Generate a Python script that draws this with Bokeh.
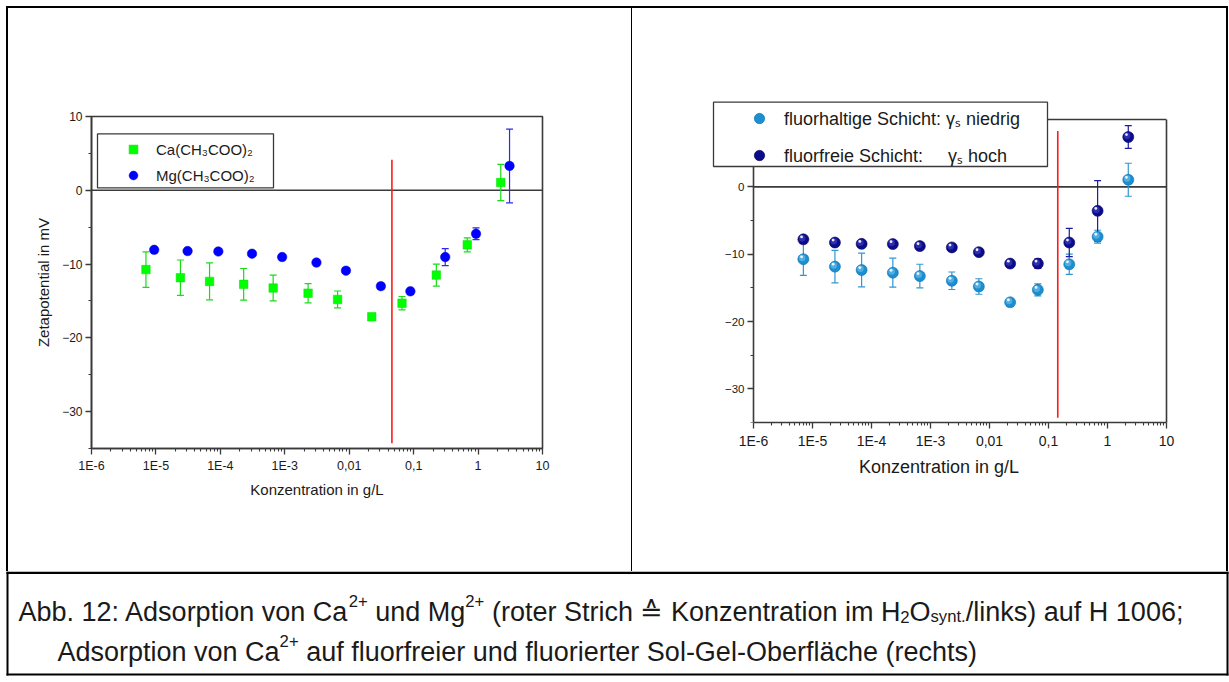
from bokeh.plotting import figure
from bokeh.models import (ColumnDataSource, Whisker, TeeHead, Span, Legend, LegendItem,
                          FixedTicker, Range1d, Spacer, BoxAnnotation, LinearAxis, LogAxis, Styles)
from bokeh.layouts import column, row
from bokeh.embed import file_html
from bokeh.resources import INLINE
from bokeh.core.properties import value

FONT = "Liberation Sans"
AXIS_COL = "#3a3a3a"
TEXT_COL = "#1a1a1a"

# ---------------- data ----------------
# concentration series (g/L)
conc_ca = [7.0e-6, 2.4e-5, 6.8e-5, 2.3e-4, 6.6e-4, 2.3e-3, 6.6e-3, 0.0224, 0.066, 0.225, 0.68, 2.25]
conc_mg = [9.4e-6, 3.1e-5, 9.3e-5, 3.1e-4, 9.1e-4, 3.1e-3, 8.9e-3, 0.031, 0.089, 0.309, 0.93, 3.08]

# zeta potential (mV) and standard deviation, Ca(CH3COO)2 on H 1006
zeta_ca = [-10.75, -11.85, -12.35, -12.75, -13.25, -13.95, -14.8, -17.15, -15.3, -11.5, -7.4, 1.05]
err_ca = [2.4, 2.4, 2.5, 2.15, 1.75, 1.3, 1.15, 0.3, 0.9, 1.5, 0.95, 2.45]

# Mg(CH3COO)2 on H 1006
zeta_mg = [-8.07, -8.24, -8.3, -8.6, -9.05, -9.8, -10.9, -13.0, -13.7, -9.05, -5.9, 3.3]
err_mg = [0.3, 0.3, 0.3, 0.3, 0.3, 0.3, 0.3, 0.4, 0.4, 1.15, 0.8, 5.0]

# Ca adsorption on sol-gel layers
conc_sg = conc_ca
zeta_fluor = zeta_ca          # fluorinated layer (low surface energy)
err_fluor = err_ca
zeta_free = [-7.8, -8.27, -8.47, -8.5, -8.8, -9.0, -9.7, -11.4, -11.4, -8.27, -3.57, 7.4]   # fluorine-free layer
err_free = [0.3, 0.3, 0.3, 0.3, 0.3, 0.3, 0.3, 0.3, 0.7, 2.1, 4.5, 1.7]

# concentration in synthetic water (red marker line): x position, y extent
red_left_x = 0.046
red_left_y = [4.15, -34.3]
red_right_x = 0.1436
red_right_y = [8.3, -34.3]

x_ticks = [1e-6, 1e-5, 1e-4, 1e-3, 1e-2, 1e-1, 1.0, 10.0]
x_tick_labels = ["1E-6", "1E-5", "1E-4", "1E-3", "0,01", "0,1", "1", "10"]
y_ticks = [-30, -20, -10, 0, 10]
y_minor = [-35, -25, -15, -5, 5]
x_lim = (1e-6, 10.0)
y_lim = (-35.0, 10.0)

# ---------------- page geometry (pixels) ----------------
PANEL_TOP, PANEL_H = 8, 563
BORDER_T, BORDER_B = 85, 115
# left panel figure spans x 8..631, frame = axis box
L_X0, L_W = 8, 623
L_LEFT, L_RIGHT, L_TOP, L_BOTTOM = 91, 542, 116, 448
# right panel figure spans x 632..1226; frame reaches a little past the axes
R_X0, R_W = 632, 594
R_FRAME_LEFT, R_AXIS_LEFT, R_RIGHT = 711, 753, 1166
R_FRAME_TOP, R_AXIS_TOP, R_BOTTOM = 99, 119, 422

# ---------------- helpers ----------------
ARIAL = {" ": 278, ".": 278, ":": 278, ";": 278, "(": 333, ")": 333, "/": 278, "-": 333,
         "+": 584, ",": 278, "\u00e4": 556, "\u2259": 838}
ARIAL.update({c: w for c, w in zip("ABCDEFGHIJKLMNOPQRSTUVWXYZ",
             [667, 667, 722, 722, 667, 611, 778, 722, 278, 500, 667, 556, 833, 722, 778, 667,
              778, 722, 667, 611, 722, 667, 944, 667, 667, 611])})
ARIAL.update({c: w for c, w in zip("abcdefghijklmnopqrstuvwxyz",
             [556, 556, 500, 556, 556, 278, 556, 556, 222, 222, 500, 222, 833, 556, 556, 556,
              556, 333, 500, 278, 556, 500, 722, 500, 500, 500])})
ARIAL.update({d: 556 for d in "0123456789"})


def text_width(s, size):
    return sum(ARIAL.get(ch, 556) for ch in s) * size / 1000.0


def style_axes(p, xtick_size, ytick_size, title_size):
    for ax in (p.xaxis[0], p.yaxis[0]):
        ax.axis_line_color = AXIS_COL
        ax.axis_line_width = 1.6
        ax.major_tick_line_color = AXIS_COL
        ax.major_tick_line_width = 1.3
        ax.minor_tick_line_color = AXIS_COL
        ax.minor_tick_line_width = 1.1
        ax.major_tick_in = 0
        ax.major_tick_out = 6
        ax.minor_tick_in = 0
        ax.minor_tick_out = 3
        ax.major_label_text_font = FONT
        ax.major_label_text_color = TEXT_COL
        ax.axis_label_text_font = FONT
        ax.axis_label_text_font_style = "normal"
        ax.axis_label_text_color = TEXT_COL
        ax.axis_label_text_font_size = title_size
    p.xaxis[0].major_label_text_font_size = xtick_size
    p.yaxis[0].major_label_text_font_size = ytick_size
    p.xaxis[0].major_label_standoff = 4
    p.yaxis[0].major_label_standoff = 3
    p.xaxis[0].ticker = FixedTicker(ticks=x_ticks,
                                    minor_ticks=[d * k for d in x_ticks[:-1] for k in range(2, 10)])
    p.xaxis[0].major_label_overrides = dict(zip(x_ticks, x_tick_labels))
    p.yaxis[0].ticker = FixedTicker(ticks=y_ticks, minor_ticks=y_minor)
    p.grid.visible = False


def bare_axis(cls, **kw):
    return cls(ticker=FixedTicker(ticks=[], minor_ticks=[]), major_label_text_font_size="0px",
               major_tick_line_color=None, minor_tick_line_color=None,
               axis_line_color=AXIS_COL, axis_line_width=1.6, **kw)


def error_bars(p, xs, ys, errs, color, cap=7):
    src = ColumnDataSource(dict(x=xs, upper=[y + e for y, e in zip(ys, errs)],
                                lower=[y - e for y, e in zip(ys, errs)]))
    w = Whisker(source=src, base="x", upper="upper", lower="lower", dimension="height",
                line_color=color, line_width=1.2,
                upper_head=TeeHead(size=cap, line_color=color, line_width=1.2),
                lower_head=TeeHead(size=cap, line_color=color, line_width=1.2))
    p.add_layout(w)


def red_line(p, rx, ry):
    p.segment(x0=[rx], y0=[ry[0]], x1=[rx], y1=[ry[1]], line_color="#ff1a1a", line_width=1.6)


def gap(w, h):
    return Spacer(width=w, height=h)


def rule(w, h, color="black"):
    return Spacer(width=w, height=h, styles=Styles(background_color=color))


def legend_box(p, x_of, y_of, px_left, px_right, py_top, py_bottom):
    p.add_layout(BoxAnnotation(left=x_of(px_left), right=x_of(px_right),
                               top=y_of(py_top), bottom=y_of(py_bottom),
                               fill_color="white", fill_alpha=1.0, line_color=AXIS_COL,
                               line_width=1.3, line_alpha=1.0, level="annotation"))


# ---------------- left panel: Ca / Mg acetate on H 1006 ----------------
L_DEC = (L_RIGHT - L_LEFT) / 7.0
L_UNIT = (L_BOTTOM - L_TOP) / 45.0
left = figure(width=L_W, height=BORDER_T + (L_BOTTOM - L_TOP) + BORDER_B, x_axis_type="log",
              x_range=Range1d(*x_lim), y_range=Range1d(*y_lim),
              toolbar_location=None, output_backend="svg",
              min_border_left=L_LEFT - L_X0, min_border_right=L_X0 + L_W - L_RIGHT,
              min_border_top=BORDER_T, min_border_bottom=BORDER_B,
              background_fill_color="white", border_fill_color="white")
style_axes(left, "12.5px", "12px", "15px")
left.outline_line_color = AXIS_COL
left.outline_line_width = 1.6
left.xaxis[0].axis_label = "Konzentration in g/L"
left.yaxis[0].axis_label = "Zetapotential in mV"
left.xaxis[0].axis_label_standoff = 5
left.yaxis[0].axis_label_standoff = 7

left.add_layout(Span(location=0, dimension="width", line_color=AXIS_COL,
                     line_width=1.6, level="underlay"))
red_line(left, red_left_x, red_left_y)
error_bars(left, conc_ca, zeta_ca, err_ca, "#18dc18")
error_bars(left, conc_mg, zeta_mg, err_mg, "#2a2af0")
r_ca = left.scatter(conc_ca, zeta_ca, marker="square", size=8.5,
                    fill_color="#00ff00", line_color="#00e000", line_width=0.5)
r_mg = left.scatter(conc_mg, zeta_mg, marker="circle", size=9.5,
                    fill_color="#0000ff", line_color="#0000e0", line_width=0.5)


def lx(px):
    return 10 ** (-6 + (px - L_LEFT) / L_DEC)


def ly(py):
    return y_lim[1] - (py - L_TOP) / L_UNIT


legend_box(left, lx, ly, 97, 273, 133.3, 187.3)
left.add_layout(Legend(items=[LegendItem(label="Ca(CH\u2083COO)\u2082", renderers=[r_ca]),
                              LegendItem(label="Mg(CH\u2083COO)\u2082", renderers=[r_mg])],
                       location=(19, 262), margin=0, padding=2, spacing=4,
                       glyph_width=46, glyph_height=22, label_height=22, label_width=20,
                       label_standoff=0, label_text_font=FONT, label_text_font_size="15px",
                       label_text_color=TEXT_COL, label_text_baseline="middle",
                       border_line_color=None, background_fill_alpha=0.0))

# ---------------- right panel: Ca on sol-gel layers ----------------
R_DEC = (R_RIGHT - R_AXIS_LEFT) / 7.0
R_UNIT = (R_BOTTOM - R_AXIS_TOP) / 45.0
r_x_start = 10 ** (-6 - (R_AXIS_LEFT - R_FRAME_LEFT) / R_DEC)
r_y_end = y_lim[1] + (R_AXIS_TOP - R_FRAME_TOP) / R_UNIT
right = figure(width=R_W, height=BORDER_T + (R_BOTTOM - R_FRAME_TOP) + BORDER_B, x_axis_type="log",
               x_range=Range1d(r_x_start, x_lim[1]), y_range=Range1d(y_lim[0], r_y_end),
               toolbar_location=None, output_backend="svg",
               min_border_left=R_FRAME_LEFT - R_X0, min_border_right=R_X0 + R_W - R_RIGHT,
               min_border_top=BORDER_T, min_border_bottom=BORDER_B,
               background_fill_color="white", border_fill_color="white")
style_axes(right, "14px", "11.5px", "18px")
right.outline_line_color = None
right.xaxis[0].axis_label = "Konzentration in g/L"
right.xaxis[0].axis_label_standoff = 5
right.xaxis[0].bounds = x_lim
right.yaxis[0].fixed_location = x_lim[0]
right.yaxis[0].bounds = y_lim
# top and right edges of the axis box
right.add_layout(bare_axis(LogAxis, fixed_location=y_lim[1], bounds=x_lim), "above")
right.add_layout(bare_axis(LinearAxis, bounds=y_lim), "right")

right.segment(x0=[x_lim[0]], y0=[0], x1=[x_lim[1]], y1=[0], line_color=AXIS_COL,
              line_width=1.6, level="underlay")
red_line(right, red_right_x, red_right_y)
error_bars(right, conc_sg, zeta_fluor, err_fluor, "#2f97d2")
error_bars(right, conc_sg, zeta_free, err_free, "#1c1ca0")


def sphere(p, xs, ys, base, edge, glow):
    r = p.scatter(xs, ys, marker="circle", size=11, fill_color=base,
                  line_color=edge, line_width=0.6)
    gx = [x * 10 ** (-1.2 / R_DEC) for x in xs]
    gy = [y + 1.2 / R_UNIT for y in ys]
    p.scatter(gx, gy, marker="circle", size=6.5, fill_color=glow, fill_alpha=0.55, line_color=None)
    hx = [x * 10 ** (-1.8 / R_DEC) for x in xs]
    hy = [y + 2.4 / R_UNIT for y in ys]
    p.scatter(hx, hy, marker="circle", size=2.8, fill_color="white", fill_alpha=0.9, line_color=None)
    return r


r_fluor = sphere(right, conc_sg, zeta_fluor, "#1b8fd2", "#0f6ea8", "#7cc8f0")
r_free = sphere(right, conc_sg, zeta_free, "#0b0b8c", "#04045a", "#4a4ad0")


def rx(px):
    return 10 ** (-6 + (px - R_AXIS_LEFT) / R_DEC)


def ry(py):
    return y_lim[1] - (py - R_AXIS_TOP) / R_UNIT


nb = "\u00a0"
legend_box(right, rx, ry, 713, 1047, 101.7, 166)
right.add_layout(Legend(items=[LegendItem(label="fluorhaltige Schicht: \u03b3\u209b niedrig", renderers=[r_fluor]),
                               LegendItem(label="fluorfreie Schicht:" + nb * 5 + "\u03b3\u209b hoch", renderers=[r_free])],
                        location=(23, 254), margin=0, padding=1, spacing=11,
                        glyph_width=50, glyph_height=26, label_height=26, label_width=20,
                        label_standoff=0, label_text_font=FONT, label_text_font_size="18px",
                        label_text_color=TEXT_COL, label_text_baseline="middle",
                        border_line_color=None, background_fill_alpha=0.0))

# ---------------- caption ----------------
cap = figure(width=1229, height=111, title=None, x_range=Range1d(0, 1229), y_range=Range1d(111, 0),
             toolbar_location=None, output_backend="svg", min_border=0,
             x_axis_location=None, y_axis_location=None, outline_line_color=None,
             background_fill_color="white", border_fill_color="white")
cap.grid.visible = False

# frame around the caption cell
cap.quad(left=[6, 6, 1226, 6], right=[1228, 8, 1228, 1228], top=[0, 0, 0, 102],
         bottom=[2.6, 104, 104, 104], fill_color="black", line_color=None)

CAP_SIZE = 27


def piece_style(kind, size):
    if kind == "sup":
        return size * 0.62, -size * 0.38
    if kind == "sub":
        return size * 0.62, size * 0.2
    return size, 0.0


def rich_line(p, x0, y0, segments, size):
    x = x0
    for txt, kind in segments:
        fs, dy = piece_style(kind, size)
        core = txt.strip(" ")
        lead = len(txt) - len(txt.lstrip(" "))
        p.text(x=[x + text_width(" " * lead, fs)], y=[y0 + dy], text=[core], text_font=value(FONT),
               text_font_size=f"{fs:.1f}px", text_baseline="alphabetic",
               text_align="left", text_color=TEXT_COL)
        x += text_width(txt, fs)


rich_line(cap, 18, 40, [("Abb. 12: Adsorption von Ca", "n"), ("2+", "sup"), (" und Mg", "n"),
                        ("2+", "sup"), (" (roter Strich \u2259 Konzentration im H", "n"),
                        ("2", "sub"), ("O", "n"), ("synt.", "sub"),
                        ("/links) auf H 1006;", "n")], CAP_SIZE)
rich_line(cap, 57, 80, [("Adsorption von Ca", "n"), ("2+", "sup"),
                        (" auf fluorfreier und fluorierter Sol-Gel-Oberfl\u00e4che (rechts)", "n")],
          CAP_SIZE)

# ---------------- page layout ----------------
left_col = column(gap(L_W, L_TOP - BORDER_T - PANEL_TOP), left,
                  gap(L_W, PANEL_TOP + PANEL_H - (L_BOTTOM + BORDER_B)))
right_col = column(gap(R_W, R_FRAME_TOP - BORDER_T - PANEL_TOP), right,
                   gap(R_W, PANEL_TOP + PANEL_H - (R_BOTTOM + BORDER_B)))

top_rule = row(gap(6, 2), rule(1222, 2), gap(1, 2))
panels = row(gap(6, PANEL_H), rule(2, PANEL_H), left_col, rule(1, PANEL_H), right_col,
             rule(2, PANEL_H), gap(1, PANEL_H))
page = column(gap(1229, 6), top_rule, panels, cap)

open("out.html", "w").write(file_html(page, INLINE))
